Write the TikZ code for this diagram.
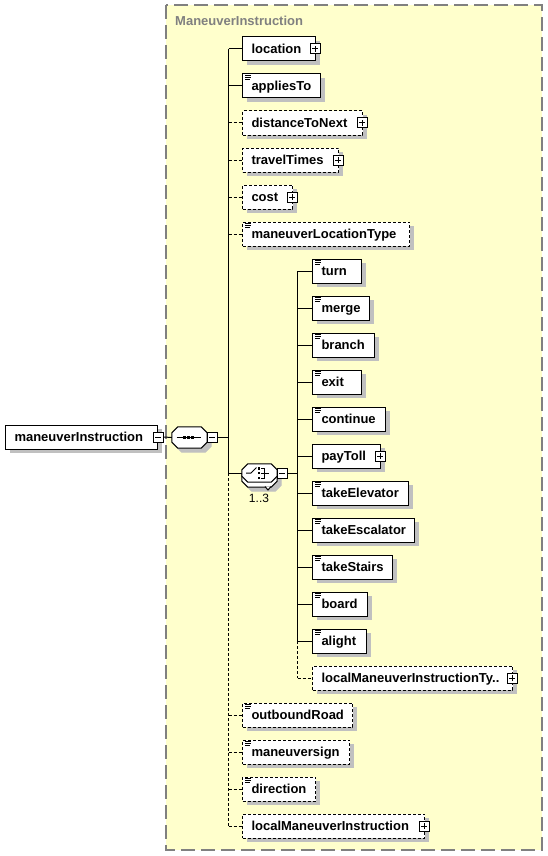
\documentclass[tikz,border=0pt]{standalone}
\usepackage{fontspec}
\setmainfont{Liberation Sans}
\usetikzlibrary{shadows}
\definecolor{bgyellow}{HTML}{FFFFCC}
\definecolor{bordergray}{HTML}{808080}
\definecolor{shadowgray}{HTML}{C0C0C0}
\newcommand{\xelem}[6]{% name, style, x, y, right, text
  \pgfmathsetmacro\xtw{#5-#3-18}%
  \node[#2, text width=\xtw pt] (#1) at (#3,#4) {#6};}
\newcommand{\xpm}[3]{% name, position, plus(1)/minus(0)
  \node[pmbox] (#1) at (#2) {};
  \draw[line width=1pt] ([xshift=-3pt]#1.center) -- ([xshift=3pt]#1.center);
  \ifnum#3=1 \draw[line width=1pt] ([yshift=-3pt]#1.center) -- ([yshift=3pt]#1.center);\fi}
\newcommand{\xicon}[1]{%
  \draw[line width=0.8pt] ([xshift=3pt,yshift=-2pt]#1.north west) -- ++(6,0);
  \draw[line width=0.8pt] ([xshift=3pt,yshift=-4pt]#1.north west) -- ++(6,0);
  \draw[line width=0.8pt] ([xshift=3pt,yshift=-6pt]#1.north west) -- ++(5,0);}
% octagon around node #1, chamfer 6pt, extra options #2
\newcommand{\xoct}[2]{%
  \draw[line width=1pt, fill=white, #2]
    ([xshift=6pt]#1.north west) -- ([xshift=-6pt]#1.north east) -- ([yshift=-6pt]#1.north east)
    -- ([yshift=6pt]#1.south east) -- ([xshift=-6pt]#1.south east) -- ([xshift=6pt]#1.south west)
    -- ([yshift=6pt]#1.south west) -- ([yshift=-6pt]#1.north west) -- cycle;}
\begin{document}
\begin{tikzpicture}[x=1pt,y=-1pt,
  elembox/.style={draw=black, line width=1pt, fill=white, rectangle, anchor=west,
    minimum height=24pt, inner xsep=9pt, inner ysep=0pt, text height=11pt, text depth=2.5pt,
    align=flush left, font=\fontsize{13}{15}\selectfont\bfseries,
    drop shadow={shadow xshift=4pt, shadow yshift=-4pt, fill=shadowgray, opacity=1}},
  optbox/.style={elembox, dash pattern=on 3pt off 2pt},
  pmbox/.style={draw=black, line width=1pt, fill=white, rectangle, minimum size=10pt, inner sep=0pt},
  comphold/.style={rectangle, draw=none, inner sep=0pt, minimum width=35pt},
  shad/.style={fill=shadowgray, draw=shadowgray, line width=1pt},
  conn/.style={draw=black, line width=1pt},
  optconn/.style={conn, dash pattern=on 3pt off 2pt}
]
\useasboundingbox (0,0) rectangle (547,856);
% background
\path[draw=bordergray, line width=1.5pt, dash pattern=on 14pt off 6pt, fill=bgyellow] (166,5) rectangle (542,850);
\node[anchor=base west, inner sep=0pt, text=bordergray, font=\fontsize{13}{15}\selectfont\bfseries] (title) at (175,26) {ManeuverInstruction};

% root
\xelem{root}{elembox}{5}{437}{157}{maneuverInstruction}
\xpm{rootm}{root.east}{0}

% sequence
\node[comphold, minimum height=21pt] (seqsh) at (193.5,441.5) {};
\xoct{seqsh}{shad}
\node[comphold, minimum height=21pt] (seq) at (189.5,437.5) {};
\xoct{seq}{}
\draw[line width=1pt] ([xshift=-13pt]seq.center) -- ([xshift=11pt]seq.center);
\fill ([xshift=-6.5pt,yshift=1.5pt]seq.center) rectangle ++(3,3);
\fill ([xshift=-2.5pt,yshift=1.5pt]seq.center) rectangle ++(3,3);
\fill ([xshift=1.5pt,yshift=1.5pt]seq.center) rectangle ++(3,3);
\xpm{seqm}{[xshift=5pt]seq.east}{0}

% choice (repeated)
\node[comphold, minimum height=18pt] (choicesh) at (263.5,482) {};
\xoct{choicesh}{shad}
\node[comphold, minimum height=18pt] (choiceback) at (259.5,478) {};
\xoct{choiceback}{}
\draw[line width=1pt, fill=white] (265,486.5) -- (268,490) -- (271,486.5);
\node[comphold, minimum height=18pt] (choice) at (259.5,473) {};
\xoct{choice}{}
\draw[line width=1pt] (246,473) -- (251,473) -- (256.5,467.5);
\fill (257.5,467) rectangle ++(2.5,2.5);
\fill (257.5,471.8) rectangle ++(2.5,2.5);
\fill (257.5,476.5) rectangle ++(2.5,2.5);
\draw[line width=1pt] (261,468) -- (264,468) -- (264,478) -- (261,478);
\draw[line width=1pt] (261,473) -- (269,473);
\xpm{choicem}{[xshift=5pt]choice.east}{0}
\node[inner sep=0pt, font=\fontsize{12}{13}\selectfont] (occ) at (259,498) {1..3};

% top-level children
\xelem{location}{elembox}{242}{49}{315}{location}
\xpm{locationp}{[xshift=-1pt]location.east}{1}
\xelem{appliesTo}{elembox}{242}{86}{320}{appliesTo}
\xicon{appliesTo}
\xelem{distanceToNext}{optbox}{242}{123}{362}{distanceToNext}
\xpm{distanceToNextp}{[xshift=-1pt]distanceToNext.east}{1}
\xelem{travelTimes}{optbox}{242}{160}{338}{travelTimes}
\xpm{travelTimesp}{[xshift=-1pt]travelTimes.east}{1}
\xelem{cost}{optbox}{242}{197}{292}{cost}
\xpm{costp}{[xshift=-1pt]cost.east}{1}
\xelem{mlt}{optbox}{242}{234}{409}{maneuverLocationType}
\xicon{mlt}
\xelem{outboundRoad}{optbox}{242}{715}{352}{outboundRoad}
\xicon{outboundRoad}
\xelem{maneuversign}{optbox}{242}{752}{349}{maneuversign}
\xicon{maneuversign}
\xelem{direction}{optbox}{242}{789}{315}{direction}
\xicon{direction}
\xelem{lmi}{optbox}{242}{826}{424}{localManeuverInstruction}
\xpm{lmip}{[xshift=-1pt]lmi.east}{1}

% choice children
\xelem{turn}{elembox}{312}{271}{361}{turn}
\xicon{turn}
\xelem{merge}{elembox}{312}{308}{369}{merge}
\xicon{merge}
\xelem{branch}{elembox}{312}{345}{374}{branch}
\xicon{branch}
\xelem{exit}{elembox}{312}{382}{361}{exit}
\xicon{exit}
\xelem{continue}{elembox}{312}{419}{385}{continue}
\xicon{continue}
\xelem{payToll}{elembox}{312}{456}{380}{payToll}
\xpm{payTollp}{[xshift=-1pt]payToll.east}{1}
\xelem{takeElevator}{elembox}{312}{493}{408}{takeElevator}
\xicon{takeElevator}
\xelem{takeEscalator}{elembox}{312}{530}{414}{takeEscalator}
\xicon{takeEscalator}
\xelem{takeStairs}{elembox}{312}{567}{392}{takeStairs}
\xicon{takeStairs}
\xelem{board}{elembox}{312}{604}{367}{board}
\xicon{board}
\xelem{alight}{elembox}{312}{641}{366}{alight}
\xicon{alight}
\xelem{lmit}{optbox}{312}{678}{512}{localManeuverInstructionTy..}
\xpm{lmitp}{[xshift=-1pt]lmit.east}{1}

% connectors
\draw[conn] (rootm.east) -- (seq.west);
\coordinate (tr) at ([xshift=11pt]seqm.east);
\draw[conn] (seqm.east) -- (tr);
\draw[conn] (tr |- location.west) -- (tr |- choice.west);
\draw[optconn] (tr |- choice.west) -- (tr |- lmi.west);
\foreach \n in {location,appliesTo} \draw[conn] (tr |- \n.west) -- (\n.west);
\draw[conn] (tr |- choice.west) -- (choice.west);
\foreach \n in {distanceToNext,travelTimes,cost,mlt,outboundRoad,maneuversign,direction,lmi}
  \draw[optconn] (tr |- \n.west) -- (\n.west);

\coordinate (ct) at ([xshift=10pt]choicem.east);
\draw[conn] (choicem.east) -- (ct);
\draw[conn] (ct |- turn.west) -- (ct |- alight.west);
\draw[optconn] (ct |- alight.west) -- (ct |- lmit.west);
\foreach \n in {turn,merge,branch,exit,continue,payToll,takeElevator,takeEscalator,takeStairs,board,alight}
  \draw[conn] (ct |- \n.west) -- (\n.west);
\draw[optconn] (ct |- lmit.west) -- (lmit.west);
\end{tikzpicture}
\end{document}
